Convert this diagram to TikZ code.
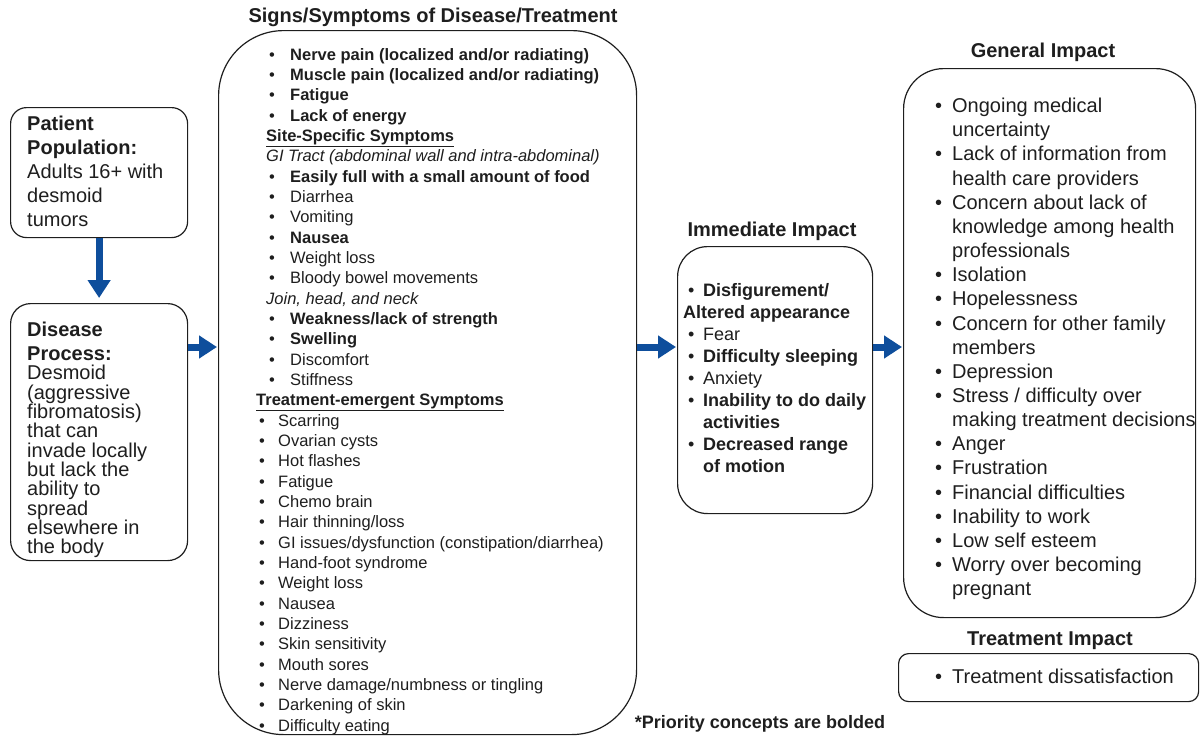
\documentclass[tikz,border=0pt]{standalone}
\usepackage{fontspec}
\setmainfont{Liberation Sans}
\usetikzlibrary{arrows.meta}

\definecolor{arrblue}{RGB}{14,78,156}
\definecolor{ink}{RGB}{30,30,30}

% bullet with a fixed gap before the text
\newcommand{\bitem}[1]{\hspace*{3pt}\makebox[#1][l]{•}}

\tikzset{
  box/.style={draw=ink, line width=1.2pt, anchor=north west, inner sep=0pt},
  txt/.style={anchor=north west, inner sep=0pt, align=left, text=ink},
  ttl/.style={anchor=base, inner sep=0pt, text=ink, font=\fontsize{20}{24}\selectfont\bfseries},
  arr/.style={arrblue, line width=7pt, -{Triangle[width=22pt,length=18pt]}}
}

\begin{document}
\begin{tikzpicture}[x=1pt,y=-1pt]
\useasboundingbox (0,0) rectangle (1200,736);

% Left column
\node[box, rounded corners=16pt, minimum width=177pt, minimum height=130pt]
  (pat) at (10,107) {};
\node[txt, font=\fontsize{20}{24}\selectfont] (pattxt) at (27,116)
  {\textbf{Patient}\\
   \textbf{Population:}\\
   Adults 16+ with\\
   desmoid\\
   tumors};

\node[box, rounded corners=20pt, minimum width=177pt, minimum height=257pt]
  (dis) at (10,303) {};
\node[txt, font=\fontsize{20}{19.3}\selectfont] (distxt) at (27,322)
  {\textbf{Disease}\\[4.7pt]
   \textbf{Process:}\\
   Desmoid\\
   (aggressive\\
   fibromatosis)\\
   that can\\
   invade locally\\
   but lack the\\
   ability to\\
   spread\\
   elsewhere in\\
   the body};

% Signs / symptoms
\node[ttl] (symtitle) at (433,23) {Signs/Symptoms of Disease/Treatment};
\node[box, rounded corners=65pt, minimum width=418pt, minimum height=704pt]
  (sym) at (218,30) {};
\node[txt, font=\fontsize{16.5}{20.33}\selectfont] (symtop) at (266,48)
  {\bitem{21pt}\textbf{Nerve pain (localized and/or radiating)}\\
   \bitem{21pt}\textbf{Muscle pain (localized and/or radiating)}\\
   \bitem{21pt}\textbf{Fatigue}\\
   \bitem{21pt}\textbf{Lack of energy}\\
   \textbf{\underline{Site-Specific Symptoms}}\\
   \textit{GI Tract (abdominal wall and intra-abdominal)}\\
   \bitem{21pt}\textbf{Easily full with a small amount of food}\\
   \bitem{21pt}Diarrhea\\
   \bitem{21pt}Vomiting\\
   \bitem{21pt}\textbf{Nausea}\\
   \bitem{21pt}Weight loss\\
   \bitem{21pt}Bloody bowel movements\\
   \textit{Join, head, and neck}\\
   \bitem{21pt}\textbf{Weakness/lack of strength}\\
   \bitem{21pt}\textbf{Swelling}\\
   \bitem{21pt}Discomfort\\
   \bitem{21pt}Stiffness};
\node[txt, font=\fontsize{16.5}{20.33}\selectfont] (symbot) at (256,394)
  {\textbf{\underline{Treatment-emergent Symptoms}}\\
   \bitem{19pt}Scarring\\
   \bitem{19pt}Ovarian cysts\\
   \bitem{19pt}Hot flashes\\
   \bitem{19pt}Fatigue\\
   \bitem{19pt}Chemo brain\\
   \bitem{19pt}Hair thinning/loss\\
   \bitem{19pt}GI issues/dysfunction (constipation/diarrhea)\\
   \bitem{19pt}Hand-foot syndrome\\
   \bitem{19pt}Weight loss\\
   \bitem{19pt}Nausea\\
   \bitem{19pt}Dizziness\\
   \bitem{19pt}Skin sensitivity\\
   \bitem{19pt}Mouth sores\\
   \bitem{19pt}Nerve damage/numbness or tingling\\
   \bitem{19pt}Darkening of skin\\
   \bitem{19pt}Difficulty eating};

% Immediate impact
\node[ttl] (immtitle) at (772,236) {Immediate Impact};
\node[box, rounded corners=30pt, minimum width=195pt, minimum height=267pt]
  (imm) at (677,246) {};
\node[txt, font=\fontsize{18}{22}\selectfont] (immtxt) at (685,283)
  {\bitem{15pt}\textbf{Disfigurement/}\\
   \hspace*{-2pt}\textbf{Altered appearance}\\
   \bitem{15pt}Fear\\
   \bitem{15pt}\textbf{Difficulty sleeping}\\
   \bitem{15pt}Anxiety\\
   \bitem{15pt}\textbf{Inability to do daily}\\
   \hspace*{18pt}\textbf{activities}\\
   \bitem{15pt}\textbf{Decreased range}\\
   \hspace*{18pt}\textbf{of motion}};

% General impact
\node[ttl] (gentitle) at (1043,57) {General Impact};
\node[box, rounded corners=40pt, minimum width=292pt, minimum height=549pt]
  (gen) at (903,68) {};
\node[txt, font=\fontsize{20}{24.15}\selectfont] (gentxt) at (932,98)
  {\bitem{17pt}Ongoing medical\\
   \hspace*{20pt}uncertainty\\
   \bitem{17pt}Lack of information from\\
   \hspace*{20pt}health care providers\\
   \bitem{17pt}Concern about lack of\\
   \hspace*{20pt}knowledge among health\\
   \hspace*{20pt}professionals\\
   \bitem{17pt}Isolation\\
   \bitem{17pt}Hopelessness\\
   \bitem{17pt}Concern for other family\\
   \hspace*{20pt}members\\
   \bitem{17pt}Depression\\
   \bitem{17pt}Stress / difficulty over\\
   \hspace*{20pt}making treatment decisions\\
   \bitem{17pt}Anger\\
   \bitem{17pt}Frustration\\
   \bitem{17pt}Financial difficulties\\
   \bitem{17pt}Inability to work\\
   \bitem{17pt}Low self esteem\\
   \bitem{17pt}Worry over becoming\\
   \hspace*{20pt}pregnant};

% Treatment impact
\node[ttl] (trttitle) at (1050,645) {Treatment Impact};
\node[box, rounded corners=10pt, minimum width=300pt, minimum height=48pt]
  (trt) at (898,653) {};
\node[txt, font=\fontsize{20}{24}\selectfont] (trttxt) at (932,669)
  {\bitem{17pt}Treatment dissatisfaction};

\node[anchor=base, inner sep=0pt, text=ink, font=\fontsize{18}{22}\selectfont\bfseries]
  (note) at (760,728) {*Priority concepts are bolded};

% Arrows
\coordinate (lvl) at (0,347);
\draw[arr, shorten >=5pt] (pat.south) -- (dis.north);
\draw[arr, shorten >=1pt] (dis.east |- lvl) -- (sym.west |- lvl);
\draw[arr, shorten >=1pt] (sym.east |- lvl) -- (imm.west |- lvl);
\draw[arr, shorten >=1pt] (imm.east |- lvl) -- (gen.west |- lvl);

\end{tikzpicture}
\end{document}
